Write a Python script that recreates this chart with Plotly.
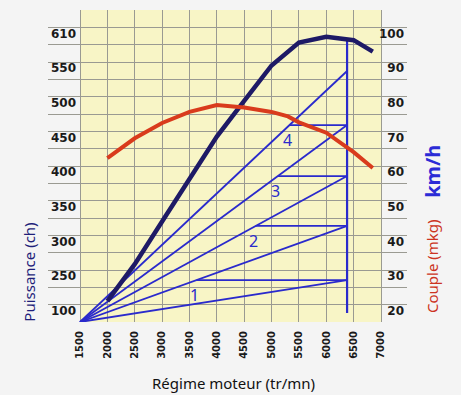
import plotly.graph_objects as go

# ---- data ----
rpm_ticks = [1500, 2000, 2500, 3000, 3500, 4000, 4500, 5000, 5500, 6000, 6500, 7000]
kmh_ticks = [20, 30, 40, 50, 60, 70, 80, 90, 100]
kmh_labels = ['20', '30', '40', '50', '60', '70', '80', '90', '100']
power_labels = ['100', '250', '300', '350', '400', '450', '500', '550', '610']
grid_kmh = [15, 20, 25, 30, 35, 40, 45, 50, 55, 60, 65, 70, 75, 80, 85, 90, 95, 100, 105]

power_rpm = [2000, 2500, 3000, 3500, 4000, 4500, 5000, 5500, 6000, 6500, 6850]
power_val = [21, 31.7, 44, 56.5, 68.5, 78.8, 89, 95.6, 97.3, 96.3, 93]

torque_rpm = [2000, 2500, 3000, 3500, 4000, 4500, 5000, 5300, 5500, 6000, 6500, 6850]
torque_val = [62.3, 68, 72.4, 75.6, 77.6, 76.9, 75.6, 74.3, 72.6, 69.6, 64, 59.4]

gear_names = ['1', '2', '3', '4']
gear_end_kmh = [27.1, 42.7, 57.1, 71.8, 87.4]
fan_rpm = 1500
fan_kmh = 15
shift_rpm = 6380
shift_bottom = 17.6
shift_top = 96.5

# ---- styles ----
BLUE = '#2a2acc'
NAVY = '#1e1a66'
RED = '#d93b1c'
GRID = '#9a9a92'
YELLOW = '#f8f5c6'
PAGE = '#f4f4f4'

fig = go.Figure()

# gear speed fan
for v in gear_end_kmh:
    fig.add_trace(go.Scatter(x=[fan_rpm, shift_rpm], y=[fan_kmh, v], mode='lines',
                             line=dict(color=BLUE, width=1.8), showlegend=False, hoverinfo='skip'))

# shift drops
annotations = []
for i, name in enumerate(gear_names):
    v = gear_end_kmh[i]
    nxt = gear_end_kmh[i + 1]
    start = fan_rpm + (v - fan_kmh) / (nxt - fan_kmh) * (shift_rpm - fan_rpm)
    fig.add_trace(go.Scatter(x=[start, shift_rpm], y=[v, v], mode='lines',
                             line=dict(color=BLUE, width=1.8), showlegend=False, hoverinfo='skip'))
    annotations.append(dict(x=start, y=v, xref='x', yref='y', text=name, showarrow=False,
                            xanchor='center', yanchor='top', yshift=-2, xshift=-2,
                            font=dict(family='Noto Sans', size=16, color=BLUE)))

fig.add_trace(go.Scatter(x=[shift_rpm, shift_rpm], y=[shift_bottom, shift_top], mode='lines',
                         line=dict(color=BLUE, width=2.2), showlegend=False, hoverinfo='skip'))

fig.add_trace(go.Scatter(x=power_rpm, y=power_val, mode='lines',
                         line=dict(color=NAVY, width=4.5), showlegend=False))
fig.add_trace(go.Scatter(x=torque_rpm, y=torque_val, mode='lines',
                         line=dict(color=RED, width=4), showlegend=False))

# invisible trace on the right axis so it is drawn
fig.add_trace(go.Scatter(x=[fan_rpm], y=[fan_kmh], yaxis='y2', mode='markers',
                         marker=dict(opacity=0), showlegend=False, hoverinfo='skip'))

# titles
annotations += [
    dict(x=0.518, y=-0.196, xref='paper', yref='paper', text='Régime moteur (tr/mn)',
         showarrow=False, xanchor='center', yanchor='middle',
         font=dict(family='Noto Sans', size=15, color='#111111')),
    dict(x=-0.054, y=0.16, xref='paper', yref='paper', text='Puissance (ch)', textangle=-90,
         showarrow=False, xanchor='center', yanchor='middle',
         font=dict(family='Noto Sans', size=15, color='#1f1f7a')),
    dict(x=1.07, y=0.18, xref='paper', yref='paper', text='Couple (mkg)', textangle=-90,
         showarrow=False, xanchor='center', yanchor='middle',
         font=dict(family='Noto Sans', size=15, color='#cc3322')),
    dict(x=1.072, y=0.484, xref='paper', yref='paper', text='<b>km/h</b>', textangle=-90,
         showarrow=False, xanchor='center', yanchor='middle',
         font=dict(family='Noto Sans', size=20, color='#2b2bd6')),
]

TICKFONT_Y = dict(family='DejaVu Sans', size=12, color='#1a1a1a', weight='bold')
TICKFONT_X = dict(family='DejaVu Sans', size=10, color='#1a1a1a', weight='bold')

fig.update_layout(
    width=461, height=395,
    margin=dict(l=48, r=54, t=10, b=73, autoexpand=False),
    paper_bgcolor=PAGE, plot_bgcolor='rgba(0,0,0,0)',
    showlegend=False,
    shapes=[dict(type='rect', xref='x', yref='y', x0=rpm_ticks[0], x1=rpm_ticks[-1],
                 y0=grid_kmh[0], y1=grid_kmh[-1], fillcolor=YELLOW, line=dict(width=0),
                 layer='below')],
    annotations=annotations,
    xaxis=dict(range=[915, 7475], tickmode='array', tickvals=rpm_ticks,
               ticktext=[str(r) for r in rpm_ticks], tickangle=-90, automargin=False,
               showgrid=True, gridcolor=GRID, gridwidth=1, zeroline=False, showline=False,
               ticks='', ticklabelstandoff=6, tickfont=TICKFONT_X),
    yaxis=dict(range=[grid_kmh[0], grid_kmh[-1]], tickmode='array', tickvals=kmh_ticks,
               ticktext=power_labels, ticklabelposition='inside', ticklabelshift=6,
               ticklabeloverflow='allow', automargin=False,
               showgrid=False, zeroline=False, showline=False, ticks='',
               minor=dict(tickmode='array', tickvals=grid_kmh, showgrid=True,
                          gridcolor=GRID, gridwidth=1, ticks=''),
               tickfont=TICKFONT_Y),
    yaxis2=dict(range=[grid_kmh[0], grid_kmh[-1]], overlaying='y', side='right',
                tickmode='array', tickvals=kmh_ticks, ticktext=kmh_labels,
                ticklabelposition='inside', ticklabelshift=6, ticklabeloverflow='allow',
                automargin=False,
                showgrid=False, zeroline=False, showline=False, ticks='',
                tickfont=TICKFONT_Y),
)

fig.write_html('out.html', config={'displayModeBar': False},
               post_script="document.body.style.margin='0';"
                           "document.body.style.background='" + PAGE + "';"
                           "document.documentElement.style.overflow='hidden';")
